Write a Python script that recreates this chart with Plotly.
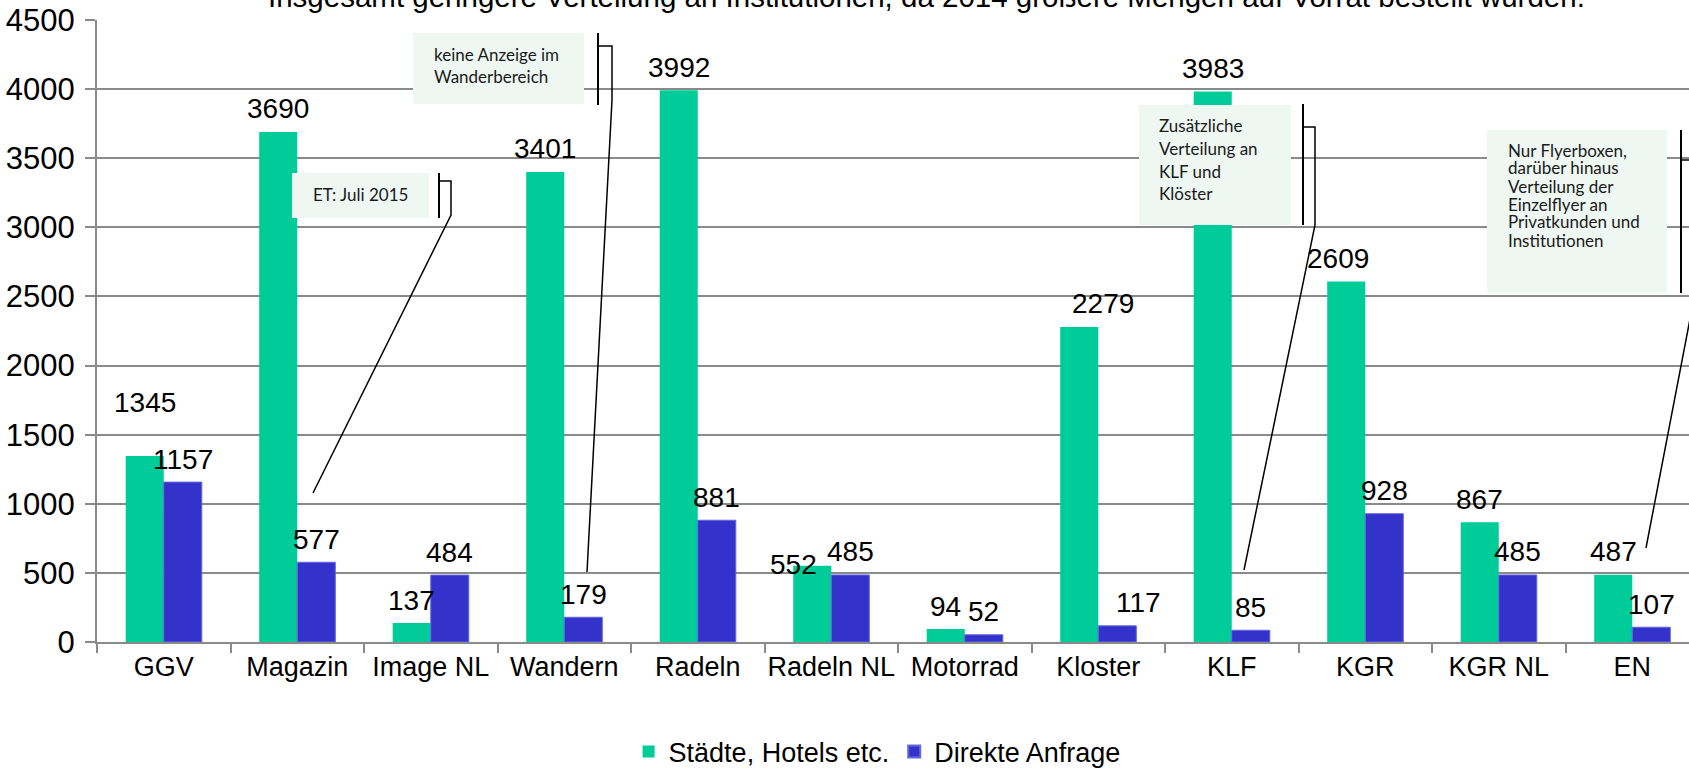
import plotly.graph_objects as go

# ---------------- data ----------------
categories = ["GGV", "Magazin", "Image NL", "Wandern", "Radeln", "Radeln NL",
              "Motorrad", "Kloster", "KLF", "KGR", "KGR NL", "EN"]
staedte = [1345, 3690, 137, 3401, 3992, 552, 94, 2279, 3983, 2609, 867, 487]
direkt = [1157, 577, 484, 179, 881, 485, 52, 117, 85, 928, 485, 107]
series_names = ["Städte, Hotels etc.", "Direkte Anfrage"]
y_ticks = [0, 500, 1000, 1500, 2000, 2500, 3000, 3500, 4000, 4500]
title_text = ("Insgesamt geringere Verteilung an Institutionen, da 2014 größere "
              "Mengen auf Vorrat bestellt wurden.")
note_wandern = ["keine Anzeige im", "Wanderbereich"]
note_magazin = ["ET: Juli 2015"]
note_klf = ["Zusätzliche", "Verteilung an", "KLF und", "Klöster"]
note_en = ["Nur Flyerboxen,", "darüber hinaus", "Verteilung der",
           "Einzelflyer an", "Privatkunden und", "Institutionen"]

# ---------------- layout constants ----------------
W, H = 1689, 769
L, R, T, B = 97, 0, 20, 127
CAT_PX = 133.5
BARGAP = 0.43
GREEN = "#00CC99"
BLUE = "#3333CC"
GRID = "#8a8a8a"
FONT = "Liberation Sans, Arial, sans-serif"
NOTE_FONT = "Lato, Calibri, sans-serif"

plot_w = W - L - R
plot_h = H - T - B
x_max = -0.5 + plot_w / CAT_PX


def px(x):
    return (x - L) / plot_w


def py(y):
    return (H - B - y) / plot_h


fig = go.Figure()
fig.add_trace(go.Bar(x=categories, y=staedte, name=series_names[0],
                     marker=dict(color=GREEN, line=dict(width=0))))
fig.add_trace(go.Bar(x=categories, y=direkt, name=series_names[1],
                     marker=dict(color=BLUE, line=dict(color="#6666dd", width=1))))

annotations = []
shapes = []

# data labels (pixel offsets from bar top; Excel labels were hand placed)
half = (1 - BARGAP) / 4
DEFAULT_SHIFT = (0, 23)
special = {("g", 0): (0, 54), ("g", 5): (-19, 1), ("g", 7): (24, 23),
           ("b", 7): (21, 23), ("g", 9): (-8, 23)}
for i, v in enumerate(staedte):
    dx, dy = special.get(("g", i), DEFAULT_SHIFT)
    annotations.append(dict(x=i - half, y=v, xref="x", yref="y", text=str(v),
                            showarrow=False, xshift=dx, yshift=dy,
                            font=dict(family=FONT, size=28, color="black")))
for i, v in enumerate(direkt):
    dx, dy = special.get(("b", i), DEFAULT_SHIFT)
    annotations.append(dict(x=i + half, y=v, xref="x", yref="y", text=str(v),
                            showarrow=False, xshift=dx, yshift=dy,
                            font=dict(family=FONT, size=28, color="black")))

# clipped title at the top
annotations.append(dict(x=px(927), y=py(15), xref="paper", yref="paper",
                        text=title_text, showarrow=False, xanchor="center",
                        yanchor="bottom",
                        font=dict(family=FONT, size=29.5, color="black")))

# callout boxes
notes = [
    dict(lines=note_wandern, box=(413, 33, 584, 104), left=433, ys=[54, 77],
         bar=(598, 33, 105),
         path=[(598, 46), (612, 46), (612, 100), (587, 572)]),
    dict(lines=note_magazin, box=(292, 173, 429, 218), left=312, ys=[195],
         bar=(439, 173, 218),
         path=[(439, 181), (451, 181), (451, 215), (313, 493)]),
    dict(lines=note_klf, box=(1139, 105, 1291, 225), left=1158,
         ys=[126, 148, 171, 193], bar=(1303, 104, 225),
         path=[(1303, 127), (1315, 127), (1315, 225), (1244, 570)]),
    dict(lines=note_en, box=(1487, 130, 1667, 293), left=1507,
         ys=[150, 168, 186, 204, 222, 240], bar=(1681, 130, 293),
         path=[(1681, 160), (1695, 160), (1695, 293), (1646, 548)]),
]
for n in notes:
    x0, y0, x1, y1 = n["box"]
    shapes.append(dict(type="rect", xref="paper", yref="paper",
                       x0=px(x0), x1=px(x1), y0=py(y1), y1=py(y0),
                       fillcolor="#EEF7F2", line=dict(width=0), layer="above"))
    bx, by0, by1 = n["bar"]
    shapes.append(dict(type="line", xref="paper", yref="paper",
                       x0=px(bx), x1=px(bx), y0=py(by0), y1=py(by1),
                       line=dict(color="black", width=2), layer="above"))
    d = "M " + " L ".join(f"{px(a)},{py(b)}" for a, b in n["path"])
    shapes.append(dict(type="path", xref="paper", yref="paper", path=d,
                       line=dict(color="black", width=1.5), layer="above"))
    for txt, yy in zip(n["lines"], n["ys"]):
        annotations.append(dict(x=px(n["left"]), y=py(yy), xref="paper",
                                yref="paper", text=txt, showarrow=False,
                                xanchor="left", yanchor="middle", borderpad=0,
                                font=dict(family=NOTE_FONT, size=17,
                                          color="#1a1a1a")))

fig.update_layout(
    width=W, height=H,
    margin=dict(l=L, r=R, t=T, b=B, pad=0, autoexpand=False),
    paper_bgcolor="white", plot_bgcolor="white",
    barmode="group", bargap=BARGAP, bargroupgap=0,
    font=dict(family=FONT, size=27, color="black"),
    showlegend=True,
    legend=dict(orientation="h", x=0.49, xanchor="center",
                yref="container", y=1 - 752 / H, yanchor="middle",
                font=dict(family=FONT, size=27),
                itemsizing="constant", traceorder="normal"),
    xaxis=dict(type="category", range=[-0.5, x_max], showline=True,
               linecolor=GRID, linewidth=2, ticks="outside",
               tickson="boundaries", ticklen=9, tickcolor=GRID, tickwidth=2,
               showgrid=False, tickangle=0, tickfont=dict(family=FONT, size=27),
               automargin=False, fixedrange=True),
    yaxis=dict(range=[0, 4500], tickvals=y_ticks, showline=True,
               linecolor=GRID, linewidth=2, ticks="outside", ticklen=10,
               tickcolor=GRID, tickwidth=2, showgrid=True, gridcolor=GRID,
               gridwidth=2, zeroline=False, ticklabelstandoff=4,
               tickfont=dict(family=FONT, size=31),
               automargin=False, fixedrange=True),
    annotations=annotations,
    shapes=shapes,
    hovermode=False,
)

fig.write_html(
    "out.html",
    config={"displayModeBar": False},
    post_script="document.body.style.margin='0';document.body.style.overflow='hidden';",
)
